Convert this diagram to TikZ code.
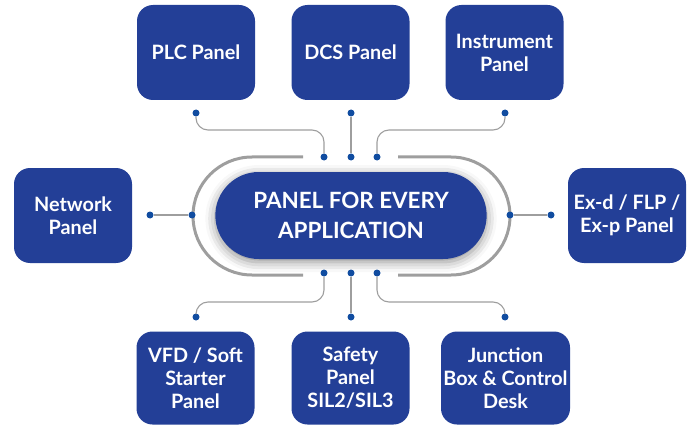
\documentclass[tikz,border=0pt]{standalone}
\usepackage{fontspec}
\setmainfont{Lato}
\usetikzlibrary{shapes.misc,shadows.blur}
\definecolor{azul}{RGB}{35,63,151}
\definecolor{azulpunto}{RGB}{16,76,160}
\definecolor{gris}{RGB}{158,158,158}

\begin{document}
\begin{tikzpicture}[x=1pt,y=-1pt,
    caja/.style={fill=azul, rounded corners=16pt, minimum width=118pt, minimum height=95pt,
        text=white, align=center, inner sep=2pt, font=\fontsize{19.8}{23}\selectfont\bfseries},
    punto/.style={circle, fill=azulpunto, inner sep=0pt, minimum size=7pt},
    cable/.style={draw=gris, line width=1.1pt, rounded corners=12pt}]
            \useasboundingbox (0,0) rectangle (696,425);

            % Anillo gris alrededor del centro
            \draw[gris, line width=3pt] (303,157) -- (252,157) arc[start angle=270, end angle=90, radius=59] -- (303,275);
            \draw[gris, line width=3pt] (398,157) -- (451,157) arc[start angle=-90, end angle=90, radius=59] -- (398,275);

            % Nodo central
            \node[rounded rectangle, fill=azul, minimum width=278pt, minimum height=87pt, text=white, align=center,
                font=\fontsize{22.4}{30}\selectfont\bfseries,
                blur shadow={shadow xshift=0pt, shadow yshift=-3pt, shadow blur radius=10pt, shadow opacity=45}]
                (centro) at (351,215.5) {PANEL FOR EVERY\\APPLICATION};

            % Cajas de arriba
            \node[caja] (plc) at (196,52.5) {PLC Panel};
            \node[caja] (dcs) at (350.5,52.5) {DCS Panel};
            \node[caja] (inst) at (504.5,52.5) {Instrument\\Panel};

            % Cajas laterales
            \node[caja] (red) at (73,215.5) {Network\\Panel};
            \node[caja] (exd) at (627,215.5) {Ex-d / FLP /\\Ex-p Panel};

            % Cajas de abajo
            \node[caja, minimum height=93pt] (vfd) at (195.5,378) {VFD / Soft\\Starter\\Panel};
            \node[caja, minimum height=93pt] (seg) at (350.5,378) {Safety\\Panel\\SIL2/SIL3};
            \node[caja, minimum height=93pt, minimum width=129pt] (jb) at (505.5,378) {Junction\\Box \& Control\\Desk};

            % Puntos de conexion
            \foreach \x/\n in {196/1,351/2,505/3} {
                \node[punto] (a\n) at (\x,113) {};
                \node[punto] (b\n) at (\x,317) {};
            }
            \foreach \x/\n in {324/1,351/2,377/3} {
                \node[punto] (ca\n) at (\x,157) {};
                \node[punto] (cb\n) at (\x,273) {};
            }
            \node[punto] (pi) at (150,215) {};
            \node[punto] (ci) at (192,215) {};
            \node[punto] (cd) at (510,215) {};
            \node[punto] (pd) at (551,215) {};

            % Cables
            \draw[cable] (a1) -- (a1 |- 0,130) -| (ca1);
            \draw[cable] (a2) -- (ca2);
            \draw[cable] (a3) -- (a3 |- 0,130) -| (ca3);
            \draw[cable] (b1) -- (b1 |- 0,302) -| (cb1);
            \draw[cable] (b2) -- (cb2);
            \draw[cable] (b3) -- (b3 |- 0,302) -| (cb3);
            \draw[cable] (pi) -- (ci);
            \draw[cable] (cd) -- (pd);
        \end{tikzpicture}
\end{document}
